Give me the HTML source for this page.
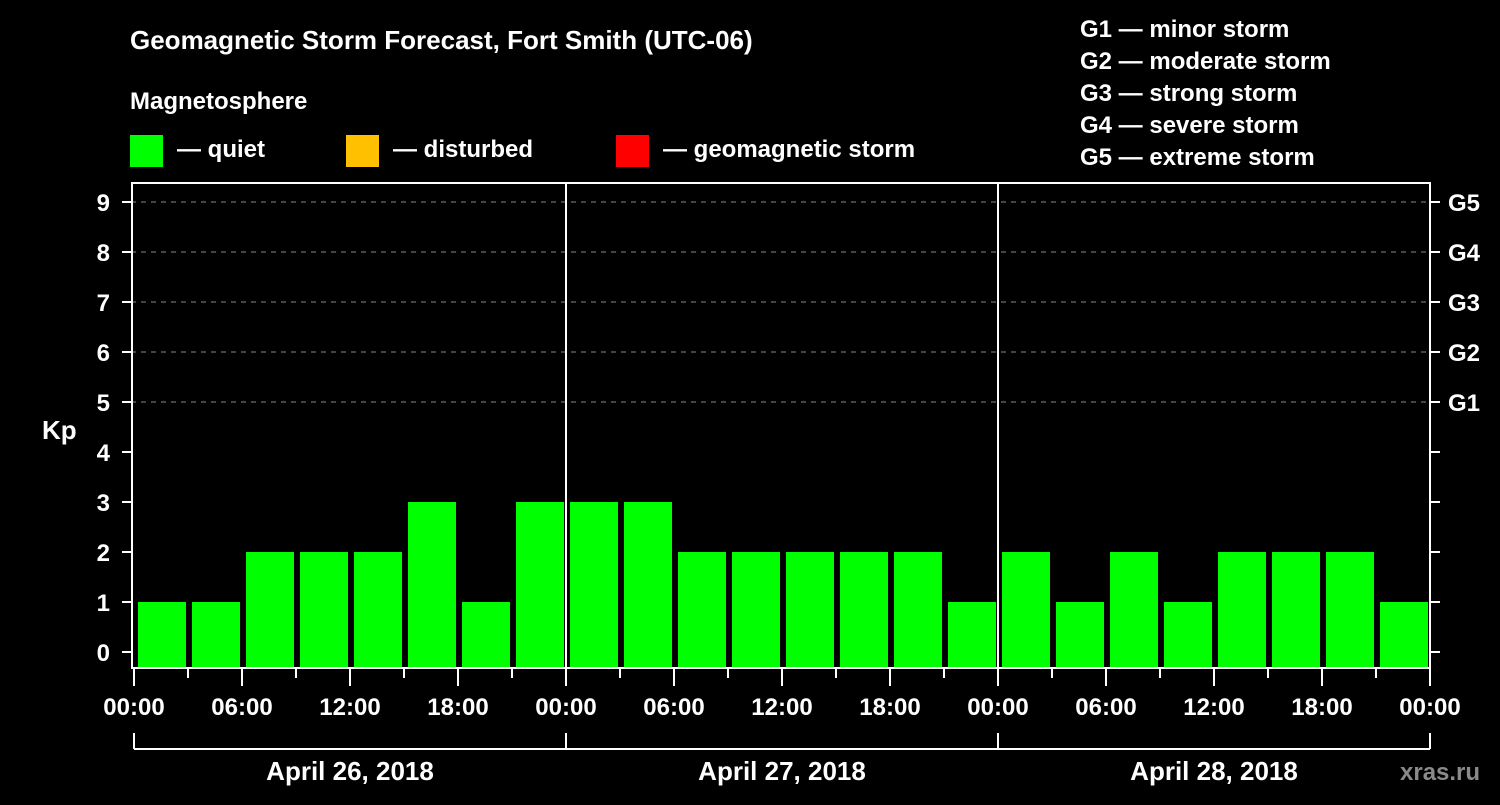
<!DOCTYPE html>
<html><head><meta charset="utf-8"><style>
body{margin:0;background:#000;width:1500px;height:800px;overflow:hidden}
svg text{font-family:"Liberation Sans",sans-serif;font-weight:bold;fill:#fff}
</style></head><body>
<svg id="c" width="1500" height="800" xmlns="http://www.w3.org/2000/svg">
<text x="130" y="49" font-size="26">Geomagnetic Storm Forecast, Fort Smith (UTC-06)</text>
<text x="130" y="109" font-size="24">Magnetosphere</text>
<g><rect x="130" y="135" width="33" height="32" fill="#00ff00"/><text x="177" y="157" font-size="24">— quiet</text></g>
<g><rect x="346" y="135" width="33" height="32" fill="#ffc000"/><text x="393" y="157" font-size="24">— disturbed</text></g>
<g><rect x="616" y="135" width="33" height="32" fill="#ff0000"/><text x="663" y="157" font-size="24">— geomagnetic storm</text></g>
<g font-size="24">
<text x="1080" y="37">G1 — minor storm</text>
<text x="1080" y="69">G2 — moderate storm</text>
<text x="1080" y="101">G3 — strong storm</text>
<text x="1080" y="133">G4 — severe storm</text>
<text x="1080" y="165">G5 — extreme storm</text>
</g>
<text x="42" y="439" font-size="26">Kp</text>
<text x="1400" y="780" font-size="24" fill="#888" style="fill:#8a8a8a">xras.ru</text>
<g id="plot"></g>
</svg>
<script>
const kpValues=[1,1,2,2,2,3,1,3, 3,3,2,2,2,2,2,1, 2,1,2,1,2,2,2,1];
const yTicks=[0,1,2,3,4,5,6,7,8,9];
const gLabels=["G1","G2","G3","G4","G5"];
const xTickLabels=["00:00","06:00","12:00","18:00","00:00","06:00","12:00","18:00","00:00","06:00","12:00","18:00","00:00"];
const dayLabels=["April 26, 2018","April 27, 2018","April 28, 2018"];
const NS="http://www.w3.org/2000/svg";
const L=131,R=1430,T=182,B=668;
const slot=(R-L+3)/24;
const y=v=>652-v*50;
const x=i=>134+i*54;
const g=document.getElementById('plot');
function mk(tag,attrs,parent){const e=document.createElementNS(NS,tag);for(const k in attrs)e.setAttribute(k,attrs[k]);(parent||g).appendChild(e);return e;}
// grid
for(let v=5;v<=9;v++){const l=mk('line',{x1:L,x2:R,y1:y(v),y2:y(v),stroke:'#888','stroke-dasharray':'5,5','stroke-width':1});

}
// bars
kpValues.forEach((v,i)=>{const c=v>=5?'#ff0000':(v>=4?'#ffc000':'#00ff00');
const r=mk('rect',{x:x(i)+4,y:y(v),width:48,height:B-y(v),fill:c});

});
// frame
mk('rect',{x:L+1,y:T+1,width:R-L-1,height:B-T-1,fill:'none',stroke:'#fff','stroke-width':2});
[1,2].forEach(d=>{const l=mk('line',{x1:x(d*8),x2:x(d*8),y1:T,y2:B,stroke:'#fff','stroke-width':2});

});
// y ticks
yTicks.forEach(v=>{mk('line',{x1:122,x2:L,y1:y(v),y2:y(v),stroke:'#fff','stroke-width':2});
mk('line',{x1:R,x2:1440,y1:y(v),y2:y(v),stroke:'#fff','stroke-width':2});
const t=mk('text',{x:110,y:y(v)+9,'font-size':24,'text-anchor':'end'});t.textContent=v;

});
gLabels.forEach((s,i)=>{const t=mk('text',{x:1448,y:y(5+i)+9,'font-size':24});t.textContent=s;

});
// x ticks
for(let i=0;i<=24;i++){const major=i%2==0;mk('line',{x1:x(i),x2:x(i),y1:B,y2:major?686:678,stroke:'#fff','stroke-width':2});}
xTickLabels.forEach((s,i)=>{const t=mk('text',{x:x(i*2),y:715,'font-size':24,'text-anchor':'middle'});t.textContent=s;

});
// day brackets
mk('line',{x1:x(0),x2:x(24),y1:749,y2:749,stroke:'#fff','stroke-width':2});
for(let d=0;d<=3;d++)mk('line',{x1:x(d*8),x2:x(d*8),y1:733,y2:749,stroke:'#fff','stroke-width':2});
dayLabels.forEach((s,d)=>{const t=mk('text',{x:x(d*8+4),y:780,'font-size':26,'text-anchor':'middle'});t.textContent=s;

});
</script>
</body></html>
